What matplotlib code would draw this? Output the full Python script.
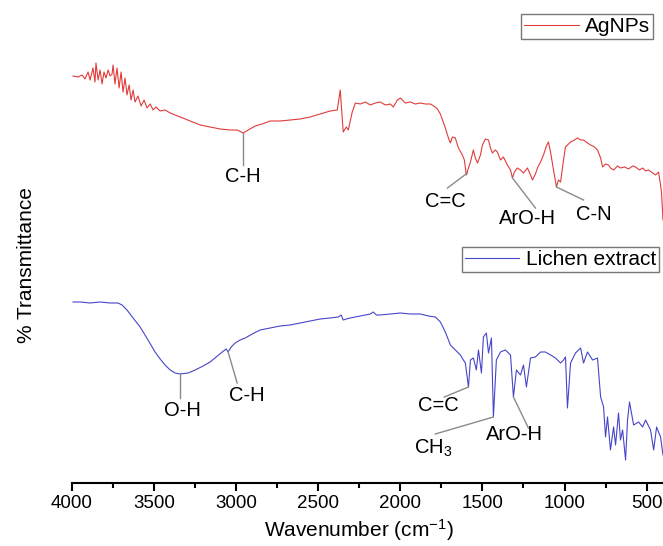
import matplotlib
matplotlib.use('Agg')
import matplotlib.pyplot as plt
from matplotlib.lines import Line2D
from matplotlib.ticker import MultipleLocator

plt.rcParams['font.family'] = ['Liberation Sans', 'DejaVu Sans']
plt.rcParams['mathtext.fontset'] = 'custom'
plt.rcParams['mathtext.rm'] = 'Liberation Sans'
plt.rcParams['mathtext.it'] = 'Liberation Sans'

# FTIR spectra, wavenumber (cm-1) and relative transmittance (offset traces)
agnp_wn = [3994, 3963, 3939, 3921, 3902, 3890, 3872, 3860, 3854, 3841, 3829, 3817,
           3805, 3793, 3780, 3768, 3756, 3750, 3738, 3726, 3713, 3701, 3689, 3677,
           3665, 3652, 3640, 3628, 3616, 3598, 3579, 3561, 3543, 3524, 3506, 3488,
           3463, 3433, 3402, 3341, 3280, 3219, 3159, 3098, 3037, 2994, 2957, 2927,
           2884, 2841, 2793, 2732, 2671, 2610, 2549, 2488, 2427, 2384, 2366, 2348,
           2329, 2317, 2293, 2274, 2244, 2213, 2183, 2152, 2122, 2091, 2061, 2043,
           2018, 2000, 1970, 1939, 1909, 1878, 1848, 1817, 1787, 1774, 1756, 1726,
           1707, 1695, 1683, 1665, 1646, 1622, 1610, 1598, 1585, 1573, 1555, 1543,
           1530, 1512, 1500, 1482, 1463, 1451, 1439, 1421, 1409, 1390, 1372, 1348,
           1329, 1317, 1305, 1287, 1268, 1250, 1226, 1207, 1195, 1177, 1165, 1146,
           1128, 1110, 1098, 1085, 1067, 1049, 1037, 1024, 1006, 994, 963, 939,
           921, 902, 884, 860, 841, 817, 799, 780, 768, 750, 732, 720,
           701, 677, 659, 634, 610, 585, 567, 543, 524, 506, 488, 463,
           445, 427, 415, 409, 400]
agnp_t = [81.4, 81.2, 81.6, 80.8, 82.2, 80.6, 83.0, 80.2, 84.0, 80.6, 82.6, 79.8,
          82.2, 81.0, 82.6, 81.4, 81.8, 83.6, 79.8, 83.0, 79.0, 82.2, 78.2, 81.0,
          77.6, 79.6, 76.6, 78.6, 76.2, 77.4, 75.4, 76.6, 75.0, 75.8, 74.6, 75.2,
          74.4, 74.6, 74.0, 73.2, 72.4, 71.6, 71.2, 70.8, 70.6, 70.6, 70.0, 70.6,
          71.4, 71.8, 72.4, 72.4, 72.6, 72.8, 73.2, 73.8, 74.4, 74.6, 78.6, 70.2,
          71.2, 70.6, 74.2, 76.0, 75.8, 76.2, 75.6, 76.0, 76.2, 75.6, 75.8, 75.2,
          76.6, 77.0, 76.0, 76.2, 75.8, 76.0, 75.8, 75.8, 75.2, 74.8, 73.8, 71.0,
          69.0, 68.0, 69.2, 69.0, 67.0, 65.6, 64.6, 61.6, 63.0, 64.2, 66.6, 65.0,
          64.0, 65.6, 67.6, 68.8, 68.6, 67.0, 66.0, 66.6, 66.2, 64.6, 65.2, 63.6,
          62.6, 61.0, 62.2, 63.0, 62.6, 62.0, 63.0, 61.6, 60.6, 61.8, 63.0, 64.2,
          65.6, 67.4, 68.2, 66.2, 62.6, 59.2, 60.6, 60.2, 64.6, 67.2, 68.2, 68.6,
          69.0, 68.6, 68.6, 68.0, 67.6, 67.2, 66.6, 65.0, 63.2, 63.8, 63.6, 63.0,
          62.6, 63.4, 63.0, 63.2, 62.8, 63.4, 63.2, 62.6, 63.0, 62.4, 62.6, 62.0,
          61.6, 62.2, 59.6, 58.0, 52.6]

lichen_wn = [3994, 3951, 3890, 3829, 3768, 3720, 3695, 3665, 3628, 3585, 3537, 3494,
             3463, 3433, 3402, 3372, 3341, 3293, 3250, 3201, 3159, 3122, 3085, 3061,
             3049, 3030, 3006, 2976, 2945, 2902, 2854, 2793, 2732, 2671, 2610, 2549,
             2488, 2427, 2378, 2360, 2348, 2329, 2305, 2244, 2183, 2165, 2146, 2122,
             2061, 2000, 1939, 1878, 1829, 1787, 1756, 1726, 1695, 1665, 1634, 1616,
             1604, 1585, 1573, 1555, 1537, 1524, 1506, 1494, 1476, 1463, 1445, 1433,
             1415, 1390, 1360, 1329, 1311, 1293, 1268, 1250, 1232, 1207, 1177, 1146,
             1116, 1085, 1055, 1024, 1006, 994, 982, 963, 933, 902, 884, 860,
             829, 799, 780, 762, 750, 738, 720, 701, 689, 671, 659, 646,
             628, 616, 604, 579, 549, 524, 506, 476, 457, 439, 415, 400]
lichen_t = [36.2, 36.2, 36.0, 36.2, 36.0, 36.0, 35.6, 34.6, 33.0, 31.2, 28.6, 26.2,
            24.8, 23.6, 22.6, 22.0, 21.8, 22.0, 22.6, 23.4, 24.2, 25.2, 26.2, 26.8,
            26.2, 27.2, 28.0, 28.6, 29.0, 29.8, 30.6, 31.0, 31.4, 31.6, 32.0, 32.4,
            32.8, 33.0, 33.2, 33.6, 32.6, 32.8, 33.0, 33.4, 33.8, 34.2, 33.6, 33.6,
            33.8, 34.0, 33.8, 33.8, 33.4, 33.2, 32.2, 30.2, 27.6, 26.6, 25.6, 24.6,
            24.0, 19.2, 24.6, 25.0, 22.6, 26.6, 22.0, 29.2, 30.0, 26.0, 29.0, 13.2,
            24.6, 26.2, 26.6, 25.6, 17.2, 22.6, 21.6, 23.6, 19.2, 25.0, 25.2, 26.2,
            26.2, 25.6, 25.0, 24.0, 24.6, 25.2, 15.0, 24.0, 26.0, 27.0, 24.0, 26.2,
            24.6, 25.0, 17.2, 15.2, 9.2, 13.2, 6.6, 11.2, 7.6, 14.0, 8.6, 10.6,
            4.6, 12.6, 16.2, 11.6, 12.2, 11.2, 12.6, 10.6, 6.6, 11.2, 9.2, 5.6]

# band assignments: label, peak (wn, T), leader end (wn, T), label centre (wn, T)
agnp_bands = [
    ('C-H', (2957, 70.0), (2957, 63.6), (2957, 61.2)),
    ('C=C', (1591, 62.0), (1713, 59.0), (1726, 56.2)),
    ('ArO-H', (1317, 61.0), (1177, 55.0), (1226, 52.8)),
    ('C-N', (1049, 59.2), (884, 56.6), (823, 53.6)),
]
lichen_bands = [
    ('O-H', (3341, 21.8), (3341, 17.0), (3329, 14.4)),
    ('C-H', (3049, 26.2), (2994, 20.0), (2933, 17.4)),
    ('C=C', (1585, 19.2), (1732, 17.2), (1768, 15.4)),
    ('CH$_3$', (1433, 13.2), (1787, 9.8), (1799, 7.0)),
    ('ArO-H', (1311, 17.2), (1220, 11.0), (1305, 9.6)),
]

red = '#e23b3b'
blue = '#4646c8'
grey = '#8a8a8a'

fig = plt.figure(figsize=(6.63, 5.46), dpi=100)
ax = fig.add_axes([0.1086, 0.1154, 0.8914, 0.8846])

ax.plot(agnp_wn, agnp_t, color=red, lw=0.8)
ax.plot(lichen_wn, lichen_t, color=blue, lw=0.8)

for bands in (agnp_bands, lichen_bands):
    for label, peak, end, pos in bands:
        ax.plot([peak[0], end[0]], [peak[1], end[1]], color=grey, lw=1.0)
        ax.text(pos[0], pos[1], label, ha='center', va='center', fontsize=14.5)

ax.set_xlim(4000, 400)
ax.set_ylim(0, 96.6)
for s in ('top', 'right', 'left'):
    ax.spines[s].set_visible(False)
ax.spines['bottom'].set_linewidth(1.5)
ax.set_yticks([])
ax.xaxis.set_major_locator(MultipleLocator(500))
ax.xaxis.set_minor_locator(MultipleLocator(250))
ax.tick_params(axis='x', which='major', direction='out', length=6, width=1.5,
               labelsize=13.5, pad=3)
ax.tick_params(axis='x', which='minor', direction='out', length=3.5, width=1.5)

fig.text(359 / 663, 1 - 530 / 546, 'Wavenumber (cm$^{-1}$)', ha='center', va='center',
         fontsize=15)
fig.text(27 / 663, 1 - 265 / 546, '% Transmittance', ha='center', va='center',
         rotation=90, fontsize=15)

leg_kw = dict(loc='upper right', fontsize=15, frameon=True, fancybox=False,
              handlelength=2.6, handletextpad=0.3, borderpad=0.15, borderaxespad=0)
leg1 = ax.legend([Line2D([], [], color=red, lw=0.8)], ['AgNPs'],
                 bbox_to_anchor=(653 / 663, 1 - 14 / 546),
                 bbox_transform=fig.transFigure, **leg_kw)
leg1.get_frame().set_edgecolor('#555555')
leg1.get_frame().set_linewidth(1.0)
ax.add_artist(leg1)
leg2 = ax.legend([Line2D([], [], color=blue, lw=0.8)], ['Lichen extract'],
                 bbox_to_anchor=(659 / 663, 1 - 247 / 546),
                 bbox_transform=fig.transFigure, **leg_kw)
leg2.get_frame().set_edgecolor('#555555')
leg2.get_frame().set_linewidth(1.0)

fig.savefig('out.png', dpi=100)
